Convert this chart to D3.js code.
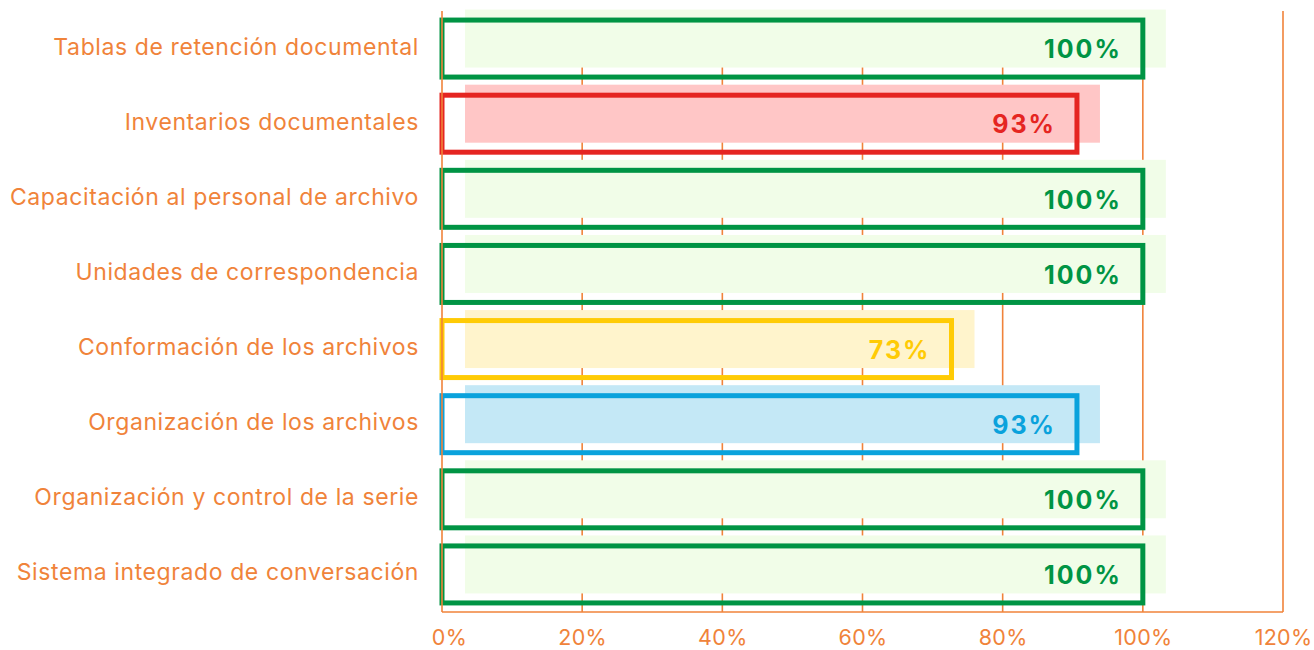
<html>
  <head>
    <meta charset="utf-8" />
    <script src="https://d3js.org/d3.v7.min.js"></script>
    <style>
      body {
        margin: 0;
        background: #fff;
      }
      text {
        font-family: Inter, "Noto Sans", sans-serif;
      }
      .cat-label {
        fill: #f0833a;
        font-size: 23px;
        letter-spacing: 0.6px;
      }
      .val-label {
        font-size: 25px;
        font-weight: 700;
        letter-spacing: 2px;
      }
      .x.axis text {
        fill: #f0833a;
        font-size: 21.5px;
        letter-spacing: 0.3px;
      }
      .grid line,
      .frame line {
        stroke: #f0833a;
        stroke-width: 1.6px;
      }
    </style>
  </head>
  <body>
    <svg id="chart" width="1314" height="650"></svg>

    <script>
      const categories = [
        "Tablas de retención documental",
        "Inventarios documentales",
        "Capacitación al personal de archivo",
        "Unidades de correspondencia",
        "Conformación de los archivos",
        "Organización de los archivos",
        "Organización y control de la serie",
        "Sistema integrado de conversación",
      ];
      // bar lengths as drawn (fractions)
      const values = [1.0, 0.906, 1.0, 1.0, 0.727, 0.906, 1.0, 1.0];
      const valueLabels = ["100%", "93%", "100%", "100%", "73%", "93%", "100%", "100%"];
      const status = ["ok", "low", "ok", "ok", "mid", "info", "ok", "ok"];
      const tickValues = [0, 0.2, 0.4, 0.6, 0.8, 1.0, 1.2];

      const data = categories.map((c, i) => ({
        cat: c,
        value: values[i],
        label: valueLabels[i],
        status: status[i],
      }));

      const strokeColor = d3
        .scaleOrdinal()
        .domain(["ok", "low", "mid", "info"])
        .range(["#009444", "#e52521", "#ffcb05", "#0aa2dc"]);
      const fillColor = d3
        .scaleOrdinal()
        .domain(["ok", "low", "mid", "info"])
        .range(["#f1fde8", "#ffc6c6", "#fff4cc", "#c4e8f6"]);

      const svg = d3.select("svg#chart");
      const margin = { top: 11, right: 31, bottom: 38, left: 442 };
      const width = +svg.attr("width");
      const height = +svg.attr("height");

      const x = d3
        .scaleLinear()
        .domain([0, 1.2])
        .range([margin.left, width - margin.right]);
      const y = d3
        .scaleBand()
        .domain(categories)
        .range([margin.top, height - margin.bottom])
        .padding(0);

      // gridlines
      svg
        .append("g")
        .attr("class", "grid")
        .selectAll("line")
        .data(tickValues.slice(1))
        .join("line")
        .attr("x1", (d) => x(d))
        .attr("x2", (d) => x(d))
        .attr("y1", margin.top)
        .attr("y2", height - margin.bottom);

      // shadow fills
      svg
        .append("g")
        .selectAll("rect.shadow")
        .data(data)
        .join("rect")
        .attr("class", "shadow")
        .attr("x", x(0) + 23)
        .attr("y", (d) => y(d.cat) + y.bandwidth() / 2 - 39)
        .attr("width", (d) => x(d.value) - x(0))
        .attr("height", 58)
        .attr("fill", (d) => fillColor(d.status));

      // outlined bars
      svg
        .append("g")
        .selectAll("rect.bar")
        .data(data)
        .join("rect")
        .attr("class", "bar")
        .attr("x", x(0))
        .attr("y", (d) => y(d.cat) + y.bandwidth() / 2 - 28.5)
        .attr("width", (d) => x(d.value) - x(0))
        .attr("height", 57)
        .attr("fill", "none")
        .attr("stroke", (d) => strokeColor(d.status))
        .attr("stroke-width", 5);

      // value labels
      svg
        .append("g")
        .selectAll("text")
        .data(data)
        .join("text")
        .attr("class", "val-label")
        .attr("x", (d) => x(d.value) - 21)
        .attr("y", (d) => y(d.cat) + y.bandwidth() / 2 + 1)
        .attr("dy", "0.35em")
        .attr("text-anchor", "end")
        .attr("fill", (d) => strokeColor(d.status))
        .text((d) => d.label);

      // category labels
      svg
        .append("g")
        .selectAll("text")
        .data(data)
        .join("text")
        .attr("class", "cat-label")
        .attr("x", x(0) - 23)
        .attr("y", (d) => y(d.cat) + y.bandwidth() / 2 - 2)
        .attr("dy", "0.35em")
        .attr("text-anchor", "end")
        .text((d) => d.cat);

      // frame: left, bottom, right
      const frame = svg.append("g").attr("class", "frame");
      frame
        .append("line")
        .attr("x1", x(0))
        .attr("x2", x(0))
        .attr("y1", margin.top)
        .attr("y2", height - margin.bottom);
      frame
        .append("line")
        .attr("x1", x(0))
        .attr("x2", x(1.2))
        .attr("y1", height - margin.bottom)
        .attr("y2", height - margin.bottom);

      const bottomAxis = d3
        .axisBottom(x)
        .tickValues(tickValues)
        .tickFormat(d3.format(".0%"))
        .tickSize(0)
        .tickPadding(18);
      svg
        .append("g")
        .attr("class", "x axis")
        .attr("transform", `translate(0,${height - margin.bottom})`)
        .call(bottomAxis)
        .call((g) => g.select(".domain").remove())
        .call((g) =>
          g
            .selectAll(".tick text")
            .filter((d) => d === 0)
            .attr("dx", 7)
        );
    </script>
  </body>
</html>
